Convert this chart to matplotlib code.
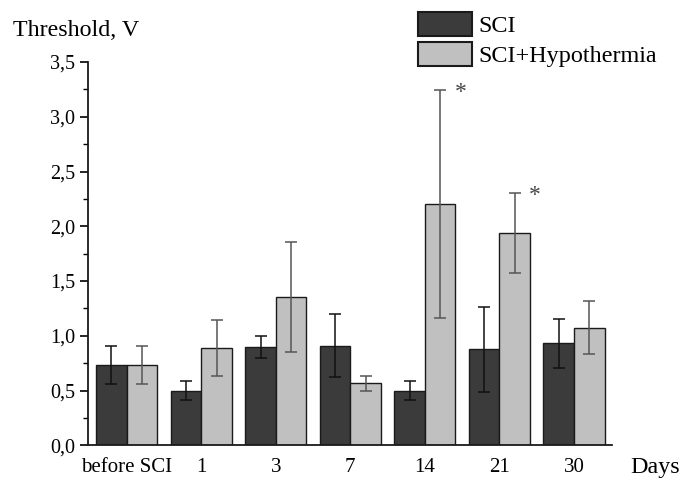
#!/usr/bin/env python3
"""Threshold vs days after SCI, with and without hypothermia."""

import matplotlib
matplotlib.use("Agg")
import matplotlib.pyplot as plt
from matplotlib.patches import Patch
from matplotlib.ticker import FixedLocator, FuncFormatter
import numpy as np

days = ["before SCI", "1", "3", "7", "14", "21", "30"]
sci_mean = [0.735, 0.50, 0.90, 0.91, 0.50, 0.875, 0.93]
sci_err = [0.175, 0.09, 0.10, 0.285, 0.09, 0.385, 0.22]
hypo_mean = [0.735, 0.89, 1.355, 0.565, 2.20, 1.94, 1.075]
hypo_err = [0.175, 0.255, 0.505, 0.065, 1.04, 0.365, 0.24]
star_groups = [4, 5]

plt.rcParams.update({
    "font.family": ["Liberation Serif", "DejaVu Serif"],
    "font.size": 13,
})

fig = plt.figure(figsize=(6.81, 4.82), dpi=100)
ax = fig.add_axes([0.1292, 0.0761, 0.8987 - 0.1292, 0.7953])

x = np.arange(len(days))
w = 0.41
dark, light = "#3b3b3b", "#c0c0c0"
ax.bar(x - w / 2, sci_mean, w, color=dark, edgecolor="#1a1a1a", linewidth=1.0)
ax.bar(x + w / 2, hypo_mean, w, color=light, edgecolor="#1a1a1a", linewidth=1.0)
ax.errorbar(x - w / 2, sci_mean, yerr=sci_err, fmt="none", ecolor="#111111",
            elinewidth=1.1, capsize=4, capthick=1.1)
ax.errorbar(x + w / 2, hypo_mean, yerr=hypo_err, fmt="none", ecolor="#555555",
            elinewidth=1.1, capsize=4, capthick=1.1)

for g in star_groups:
    top = hypo_mean[g] + hypo_err[g]
    ax.text(x[g] + w / 2 + 0.27, top - 0.02, "*", fontsize=17, color="#444444",
            ha="center", va="center")

ax.set_xlim(-0.52, 6.51)
ax.set_ylim(0, 3.5)
ax.yaxis.set_major_locator(FixedLocator(np.arange(0, 3.51, 0.5)))
ax.yaxis.set_minor_locator(FixedLocator(np.arange(0.25, 3.5, 0.5)))
ax.yaxis.set_major_formatter(FuncFormatter(lambda v, p: f"{v:.1f}".replace(".", ",")))
ax.tick_params(axis="y", which="major", length=6, width=1.2, direction="out", labelsize=14.5, pad=3)
ax.tick_params(axis="y", which="minor", length=3.5, width=1.0, direction="out")
ax.set_xticks(x)
ax.set_xticklabels(days, fontsize=15)
ax.tick_params(axis="x", length=0, pad=9)
for side in ("top", "right"):
    ax.spines[side].set_visible(False)
for side in ("left", "bottom"):
    ax.spines[side].set_linewidth(1.3)
    ax.spines[side].set_color("#1a1a1a")

fig.text(13 / 681, 1 - 30 / 482, "Threshold, V", fontsize=17.3, va="center", ha="left")
fig.text(630 / 681, 1 - 467 / 482, "Days", fontsize=17.3, va="center", ha="left")

handles = [Patch(facecolor=dark, edgecolor="#1a1a1a", linewidth=1.5),
           Patch(facecolor=light, edgecolor="#1a1a1a", linewidth=1.5)]
fig.legend(handles, ["SCI", "SCI+Hypothermia"], loc="upper left",
           bbox_to_anchor=(418 / 681, 1 - 12 / 482), frameon=False, fontsize=17.4,
           handlelength=2.25, handleheight=1.15, handletextpad=0.25,
           labelspacing=0.18, borderpad=0, borderaxespad=0)

fig.savefig("out.png", dpi=100)
